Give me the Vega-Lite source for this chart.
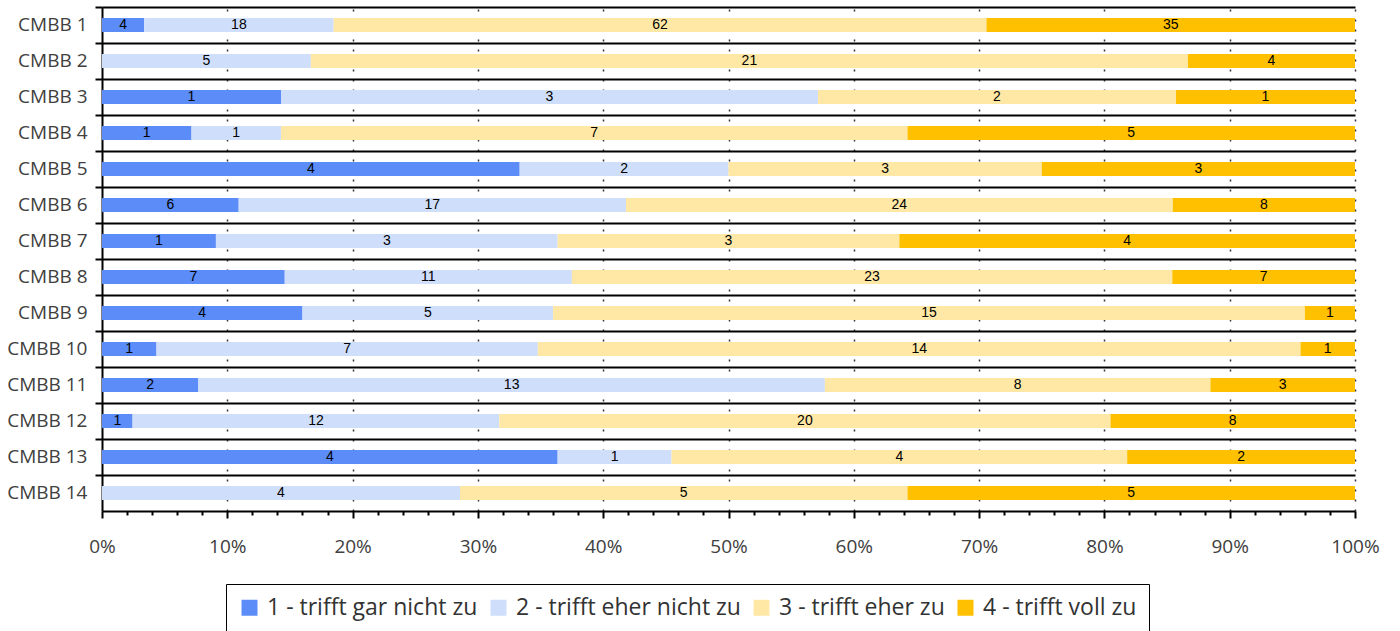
{
  "$schema": "https://vega.github.io/schema/vega-lite/v6.json",
  "autosize": "none",
  "width": 1253,
  "height": 504,
  "padding": {"left": 102, "top": 7, "right": 45, "bottom": 120},
  "background": "white",
  "config": {"view": {"stroke": null}},
  "data": {"values": [
    {"item": "CMBB 1", "cat": "1 - trifft gar nicht zu", "n": 4},
    {"item": "CMBB 1", "cat": "2 - trifft eher nicht zu", "n": 18},
    {"item": "CMBB 1", "cat": "3 - trifft eher zu", "n": 62},
    {"item": "CMBB 1", "cat": "4 - trifft voll zu", "n": 35},
    {"item": "CMBB 2", "cat": "2 - trifft eher nicht zu", "n": 5},
    {"item": "CMBB 2", "cat": "3 - trifft eher zu", "n": 21},
    {"item": "CMBB 2", "cat": "4 - trifft voll zu", "n": 4},
    {"item": "CMBB 3", "cat": "1 - trifft gar nicht zu", "n": 1},
    {"item": "CMBB 3", "cat": "2 - trifft eher nicht zu", "n": 3},
    {"item": "CMBB 3", "cat": "3 - trifft eher zu", "n": 2},
    {"item": "CMBB 3", "cat": "4 - trifft voll zu", "n": 1},
    {"item": "CMBB 4", "cat": "1 - trifft gar nicht zu", "n": 1},
    {"item": "CMBB 4", "cat": "2 - trifft eher nicht zu", "n": 1},
    {"item": "CMBB 4", "cat": "3 - trifft eher zu", "n": 7},
    {"item": "CMBB 4", "cat": "4 - trifft voll zu", "n": 5},
    {"item": "CMBB 5", "cat": "1 - trifft gar nicht zu", "n": 4},
    {"item": "CMBB 5", "cat": "2 - trifft eher nicht zu", "n": 2},
    {"item": "CMBB 5", "cat": "3 - trifft eher zu", "n": 3},
    {"item": "CMBB 5", "cat": "4 - trifft voll zu", "n": 3},
    {"item": "CMBB 6", "cat": "1 - trifft gar nicht zu", "n": 6},
    {"item": "CMBB 6", "cat": "2 - trifft eher nicht zu", "n": 17},
    {"item": "CMBB 6", "cat": "3 - trifft eher zu", "n": 24},
    {"item": "CMBB 6", "cat": "4 - trifft voll zu", "n": 8},
    {"item": "CMBB 7", "cat": "1 - trifft gar nicht zu", "n": 1},
    {"item": "CMBB 7", "cat": "2 - trifft eher nicht zu", "n": 3},
    {"item": "CMBB 7", "cat": "3 - trifft eher zu", "n": 3},
    {"item": "CMBB 7", "cat": "4 - trifft voll zu", "n": 4},
    {"item": "CMBB 8", "cat": "1 - trifft gar nicht zu", "n": 7},
    {"item": "CMBB 8", "cat": "2 - trifft eher nicht zu", "n": 11},
    {"item": "CMBB 8", "cat": "3 - trifft eher zu", "n": 23},
    {"item": "CMBB 8", "cat": "4 - trifft voll zu", "n": 7},
    {"item": "CMBB 9", "cat": "1 - trifft gar nicht zu", "n": 4},
    {"item": "CMBB 9", "cat": "2 - trifft eher nicht zu", "n": 5},
    {"item": "CMBB 9", "cat": "3 - trifft eher zu", "n": 15},
    {"item": "CMBB 9", "cat": "4 - trifft voll zu", "n": 1},
    {"item": "CMBB 10", "cat": "1 - trifft gar nicht zu", "n": 1},
    {"item": "CMBB 10", "cat": "2 - trifft eher nicht zu", "n": 7},
    {"item": "CMBB 10", "cat": "3 - trifft eher zu", "n": 14},
    {"item": "CMBB 10", "cat": "4 - trifft voll zu", "n": 1},
    {"item": "CMBB 11", "cat": "1 - trifft gar nicht zu", "n": 2},
    {"item": "CMBB 11", "cat": "2 - trifft eher nicht zu", "n": 13},
    {"item": "CMBB 11", "cat": "3 - trifft eher zu", "n": 8},
    {"item": "CMBB 11", "cat": "4 - trifft voll zu", "n": 3},
    {"item": "CMBB 12", "cat": "1 - trifft gar nicht zu", "n": 1},
    {"item": "CMBB 12", "cat": "2 - trifft eher nicht zu", "n": 12},
    {"item": "CMBB 12", "cat": "3 - trifft eher zu", "n": 20},
    {"item": "CMBB 12", "cat": "4 - trifft voll zu", "n": 8},
    {"item": "CMBB 13", "cat": "1 - trifft gar nicht zu", "n": 4},
    {"item": "CMBB 13", "cat": "2 - trifft eher nicht zu", "n": 1},
    {"item": "CMBB 13", "cat": "3 - trifft eher zu", "n": 4},
    {"item": "CMBB 13", "cat": "4 - trifft voll zu", "n": 2},
    {"item": "CMBB 14", "cat": "2 - trifft eher nicht zu", "n": 4},
    {"item": "CMBB 14", "cat": "3 - trifft eher zu", "n": 5},
    {"item": "CMBB 14", "cat": "4 - trifft voll zu", "n": 5}
  ]},
  "encoding": {
    "y": {
      "field": "item", "type": "nominal", "title": null,
      "sort": ["CMBB 1","CMBB 2","CMBB 3","CMBB 4","CMBB 5","CMBB 6","CMBB 7","CMBB 8","CMBB 9","CMBB 10","CMBB 11","CMBB 12","CMBB 13","CMBB 14"],
      "scale": {"paddingInner": 0, "paddingOuter": 0},
      "axis": {
        "bandPosition": 0,
        "domainColor": "#000", "domainWidth": 2,
        "tickColor": "#000", "tickWidth": 2, "tickSize": 7,
        "grid": true, "gridColor": "#000", "gridWidth": 2,
        "labelFont": "Open Sans", "labelFontSize": 19, "labelColor": "#404040", "labelPadding": 8
      }
    }
  },
  "layer": [
    {
      "mark": {"type": "bar", "size": 14},
      "encoding": {
        "x": {
          "field": "n", "type": "quantitative", "stack": "normalize", "title": null,
          "scale": {"domain": [0, 1], "nice": false},
          "axis": {
            "values": [0,0.02,0.04,0.06,0.08,0.1,0.12,0.14,0.16,0.18,0.2,0.22,0.24,0.26,0.28,0.3,0.32,0.34,0.36,0.38,0.4,0.42,0.44,0.46,0.48,0.5,0.52,0.54,0.56,0.58,0.6,0.62,0.64,0.66,0.68,0.7,0.72,0.74,0.76,0.78,0.8,0.82,0.84,0.86,0.88,0.9,0.92,0.94,0.96,0.98,1],
            "tickCount": 200,
            "labelExpr": "abs(datum.value*10 - round(datum.value*10)) < 0.001 ? format(datum.value, '.0%') : ''",
            "domainColor": "#000", "domainWidth": 2,
            "tickColor": "#000", "tickWidth": 2,
            "tickSize": {"condition": {"test": "abs(datum.value*10 - round(datum.value*10)) < 0.001", "value": 7}, "value": 4},
            "grid": true, "gridColor": "#000", "gridWidth": 1.5, "gridDash": [2, 8],
            "gridOpacity": {"condition": {"test": "abs(datum.value*10 - round(datum.value*10)) < 0.001 && datum.value > 0", "value": 0.8}, "value": 0},
            "labelFont": "Open Sans", "labelFontSize": 19, "labelColor": "#404040", "labelPadding": 19,
            "labelFlush": false, "labelOverlap": false
          }
        },
        "color": {
          "field": "cat", "type": "nominal",
          "scale": {
            "domain": ["1 - trifft gar nicht zu", "2 - trifft eher nicht zu", "3 - trifft eher zu", "4 - trifft voll zu"],
            "range": ["#5B8CF8", "#CFDEFA", "#FFE8A6", "#FFC000"]
          },
          "legend": {
            "title": null, "orient": "none", "direction": "horizontal",
            "legendX": 124, "legendY": 577,
            "symbolType": "square", "symbolSize": 256, "symbolStrokeWidth": 0, "symbolOpacity": 1,
            "labelFont": "Open Sans", "labelFontSize": 23, "labelColor": "#333333", "labelOffset": 6, "labelLimit": 400,
            "columnPadding": 9,
            "strokeColor": "#000", "padding": 12, "fillColor": "white"
          }
        }
      }
    },
    {
      "mark": {"type": "text", "font": "Liberation Sans", "fontSize": 14, "color": "#000", "baseline": "middle"},
      "encoding": {
        "x": {"field": "n", "type": "quantitative", "stack": "normalize", "bandPosition": 0.5},
        "detail": {"field": "cat"},
        "order": {"field": "cat", "sort": "ascending"},
        "text": {"field": "n", "type": "quantitative"}
      }
    }
  ]
}
